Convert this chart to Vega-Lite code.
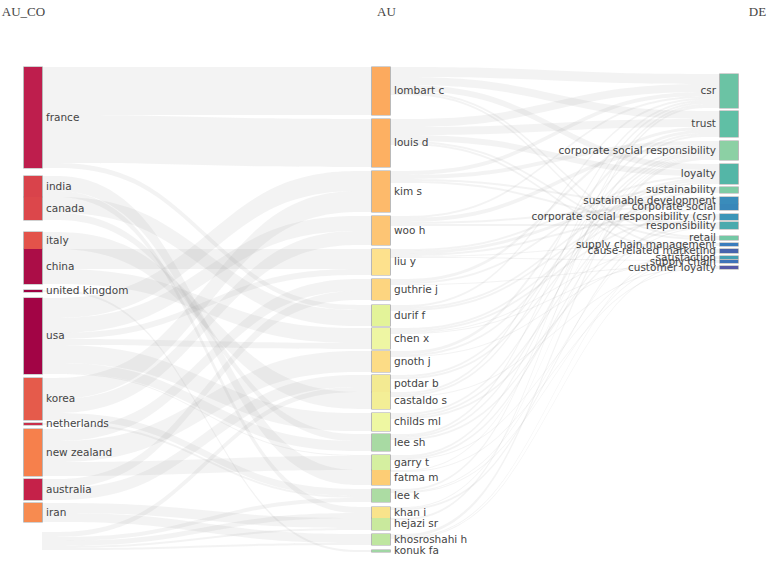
{
"$schema": "https://vega.github.io/schema/vega-lite/v6.json",
"width": 696, "height": 500,
"autosize": {"type": "none"},
"padding": {"left": 33, "top": 67, "right": 43, "bottom": 5},
"background": "#ffffff",
"config": {"view": {"stroke": null}},
"datasets": {
"sides": [
{"group": "AU_CO", "col": "AU_CO", "pos": ["AU_CO", "h1"]},
{"group": "AU_in", "col": "AU", "pos": ["h2", "AU"]},
{"group": "AU_out", "col": "AU", "pos": ["AU", "h3"]},
{"group": "DE", "col": "DE", "pos": ["h4", "DE"]}
],
"ends": [
{"group": "AU_CO", "node": "france", "link": "france>lombart c", "value": 24, "order": 101},
{"group": "AU_CO", "node": "france", "link": "france>louis d", "value": 24, "order": 102},
{"group": "AU_CO", "node": "france", "link": "france>durif f", "value": 2.5, "order": 107},
{"group": "AU_CO", "value": 4, "order": 199},
{"group": "AU_CO", "node": "india", "link": "india>fatma m", "value": 7.5, "order": 215},
{"group": "AU_CO", "node": "india", "link": "india>khan i", "value": 3, "order": 217},
{"group": "AU_CO", "node": "canada", "link": "canada>durif f", "value": 8, "order": 307},
{"group": "AU_CO", "node": "canada", "link": "canada>lee sh", "value": 3.5, "order": 313},
{"group": "AU_CO", "value": 6, "order": 399},
{"group": "AU_CO", "node": "italy", "link": "italy>castaldo s", "value": 8.5, "order": 411},
{"group": "AU_CO", "node": "china", "link": "china>liu y", "value": 10, "order": 505},
{"group": "AU_CO", "node": "china", "link": "china>chen x", "value": 7.5, "order": 508},
{"group": "AU_CO", "value": 3, "order": 599},
{"group": "AU_CO", "node": "united kingdom", "link": "united kingdom>konuk fa", "value": 1, "order": 620},
{"group": "AU_CO", "value": 3, "order": 699},
{"group": "AU_CO", "node": "usa", "link": "usa>kim s", "value": 10, "order": 703},
{"group": "AU_CO", "node": "usa", "link": "usa>woo h", "value": 7.5, "order": 704},
{"group": "AU_CO", "node": "usa", "link": "usa>liu y", "value": 3, "order": 705},
{"group": "AU_CO", "node": "usa", "link": "usa>chen x", "value": 3, "order": 708},
{"group": "AU_CO", "node": "usa", "link": "usa>childs ml", "value": 9, "order": 712},
{"group": "AU_CO", "node": "usa", "link": "usa>lee sh", "value": 5, "order": 713},
{"group": "AU_CO", "node": "usa", "link": "usa>garry t", "value": 0.5, "order": 714},
{"group": "AU_CO", "value": 2, "order": 799},
{"group": "AU_CO", "node": "korea", "link": "korea>kim s", "value": 10.5, "order": 803},
{"group": "AU_CO", "node": "korea", "link": "korea>woo h", "value": 7, "order": 804},
{"group": "AU_CO", "node": "korea", "link": "korea>lee k", "value": 3.5, "order": 816},
{"group": "AU_CO", "value": 1.5, "order": 899},
{"group": "AU_CO", "node": "netherlands", "link": "netherlands>lee k", "value": 1, "order": 916},
{"group": "AU_CO", "value": 2, "order": 999},
{"group": "AU_CO", "node": "new zealand", "link": "new zealand>guthrie j", "value": 6, "order": 1006},
{"group": "AU_CO", "node": "new zealand", "link": "new zealand>gnoth j", "value": 10.5, "order": 1009},
{"group": "AU_CO", "node": "new zealand", "link": "new zealand>garry t", "value": 7, "order": 1014},
{"group": "AU_CO", "value": 1.5, "order": 1099},
{"group": "AU_CO", "node": "australia", "link": "australia>guthrie j", "value": 4.5, "order": 1106},
{"group": "AU_CO", "node": "australia", "link": "australia>potdar b", "value": 6, "order": 1110},
{"group": "AU_CO", "value": 1.5, "order": 1199},
{"group": "AU_CO", "node": "iran", "link": "iran>hejazi sr", "value": 5, "order": 1218},
{"group": "AU_CO", "node": "iran", "link": "iran>khosroshahi h", "value": 4.5, "order": 1219},
{"group": "AU_CO", "value": 5, "order": 1299},
{"group": "AU_CO", "node": "NA", "link": "NA>potdar b", "value": 2.5, "order": 1310},
{"group": "AU_CO", "node": "NA", "link": "NA>lee k", "value": 2, "order": 1316},
{"group": "AU_CO", "node": "NA", "link": "NA>khan i", "value": 2.5, "order": 1317},
{"group": "AU_CO", "node": "NA", "link": "NA>hejazi sr", "value": 1, "order": 1318},
{"group": "AU_CO", "node": "NA", "link": "NA>khosroshahi h", "value": 1, "order": 1319},

{"group": "AU_in", "node": "lombart c", "link": "france>lombart c", "value": 24, "order": 101},
{"group": "AU_in", "value": 2, "order": 199},
{"group": "AU_in", "node": "louis d", "link": "france>louis d", "value": 24, "order": 201},
{"group": "AU_in", "value": 2, "order": 299},
{"group": "AU_in", "node": "kim s", "link": "usa>kim s", "value": 10, "order": 307},
{"group": "AU_in", "node": "kim s", "link": "korea>kim s", "value": 10.5, "order": 308},
{"group": "AU_in", "value": 2, "order": 399},
{"group": "AU_in", "node": "woo h", "link": "usa>woo h", "value": 7.5, "order": 407},
{"group": "AU_in", "node": "woo h", "link": "korea>woo h", "value": 7, "order": 408},
{"group": "AU_in", "value": 2, "order": 499},
{"group": "AU_in", "node": "liu y", "link": "china>liu y", "value": 10, "order": 505},
{"group": "AU_in", "node": "liu y", "link": "usa>liu y", "value": 3, "order": 507},
{"group": "AU_in", "value": 2, "order": 599},
{"group": "AU_in", "node": "guthrie j", "link": "new zealand>guthrie j", "value": 6, "order": 610},
{"group": "AU_in", "node": "guthrie j", "link": "australia>guthrie j", "value": 4.5, "order": 611},
{"group": "AU_in", "value": 2.5, "order": 699},
{"group": "AU_in", "node": "durif f", "link": "france>durif f", "value": 2.5, "order": 701},
{"group": "AU_in", "node": "durif f", "link": "canada>durif f", "value": 8, "order": 703},
{"group": "AU_in", "value": 1, "order": 799},
{"group": "AU_in", "node": "chen x", "link": "china>chen x", "value": 7.5, "order": 805},
{"group": "AU_in", "node": "chen x", "link": "usa>chen x", "value": 3, "order": 807},
{"group": "AU_in", "value": 1, "order": 899},
{"group": "AU_in", "node": "gnoth j", "link": "new zealand>gnoth j", "value": 10.5, "order": 910},
{"group": "AU_in", "value": 1.5, "order": 999},
{"group": "AU_in", "node": "potdar b", "link": "australia>potdar b", "value": 6, "order": 1011},
{"group": "AU_in", "node": "potdar b", "link": "NA>potdar b", "value": 2.5, "order": 1013},
{"group": "AU_in", "node": "castaldo s", "link": "italy>castaldo s", "value": 8.5, "order": 1104},
{"group": "AU_in", "value": 2, "order": 1199},
{"group": "AU_in", "node": "childs ml", "link": "usa>childs ml", "value": 9, "order": 1207},
{"group": "AU_in", "value": 1.5, "order": 1299},
{"group": "AU_in", "node": "lee sh", "link": "canada>lee sh", "value": 3.5, "order": 1303},
{"group": "AU_in", "node": "lee sh", "link": "usa>lee sh", "value": 5, "order": 1307},
{"group": "AU_in", "value": 2, "order": 1399},
{"group": "AU_in", "node": "garry t", "link": "usa>garry t", "value": 0.5, "order": 1407},
{"group": "AU_in", "node": "garry t", "link": "new zealand>garry t", "value": 7, "order": 1410},
{"group": "AU_in", "node": "fatma m", "link": "india>fatma m", "value": 7.5, "order": 1502},
{"group": "AU_in", "value": 2, "order": 1599},
{"group": "AU_in", "node": "lee k", "link": "korea>lee k", "value": 3.5, "order": 1608},
{"group": "AU_in", "node": "lee k", "link": "netherlands>lee k", "value": 1, "order": 1609},
{"group": "AU_in", "node": "lee k", "link": "NA>lee k", "value": 2, "order": 1613},
{"group": "AU_in", "value": 2.5, "order": 1699},
{"group": "AU_in", "node": "khan i", "link": "india>khan i", "value": 3, "order": 1702},
{"group": "AU_in", "node": "khan i", "link": "NA>khan i", "value": 2.5, "order": 1713},
{"group": "AU_in", "node": "hejazi sr", "link": "iran>hejazi sr", "value": 5, "order": 1812},
{"group": "AU_in", "node": "hejazi sr", "link": "NA>hejazi sr", "value": 1, "order": 1813},
{"group": "AU_in", "value": 2, "order": 1899},
{"group": "AU_in", "node": "khosroshahi h", "link": "iran>khosroshahi h", "value": 4.5, "order": 1912},
{"group": "AU_in", "node": "khosroshahi h", "link": "NA>khosroshahi h", "value": 1, "order": 1913},
{"group": "AU_in", "value": 2.5, "order": 1999},
{"group": "AU_in", "node": "konuk fa", "link": "united kingdom>konuk fa", "value": 1, "order": 2006},

{"group": "AU_out", "node": "lombart c", "link": "lombart c>csr", "value": 5, "order": 101},
{"group": "AU_out", "node": "lombart c", "link": "lombart c>trust", "value": 4, "order": 102},
{"group": "AU_out", "node": "lombart c", "link": "lombart c>loyalty", "value": 3, "order": 104},
{"group": "AU_out", "node": "lombart c", "link": "lombart c>retail", "value": 1, "order": 110},
{"group": "AU_out", "node": "lombart c", "link": "lombart c>cause-related marketing", "value": 1, "order": 112},
{"group": "AU_out", "value": 12, "order": 199},
{"group": "AU_out", "node": "louis d", "link": "louis d>csr", "value": 4, "order": 201},
{"group": "AU_out", "node": "louis d", "link": "louis d>trust", "value": 4, "order": 202},
{"group": "AU_out", "node": "louis d", "link": "louis d>loyalty", "value": 3, "order": 204},
{"group": "AU_out", "node": "louis d", "link": "louis d>retail", "value": 1, "order": 210},
{"group": "AU_out", "node": "louis d", "link": "louis d>cause-related marketing", "value": 1, "order": 212},
{"group": "AU_out", "value": 13, "order": 299},
{"group": "AU_out", "node": "kim s", "link": "kim s>csr", "value": 2, "order": 301},
{"group": "AU_out", "node": "kim s", "link": "kim s>corporate social responsibility", "value": 2, "order": 303},
{"group": "AU_out", "node": "kim s", "link": "kim s>corporate social", "value": 1, "order": 307},
{"group": "AU_out", "node": "kim s", "link": "kim s>responsibility", "value": 1, "order": 309},
{"group": "AU_out", "value": 16.5, "order": 399},
{"group": "AU_out", "node": "woo h", "link": "woo h>csr", "value": 1, "order": 401},
{"group": "AU_out", "node": "woo h", "link": "woo h>corporate social responsibility", "value": 2, "order": 403},
{"group": "AU_out", "node": "woo h", "link": "woo h>corporate social", "value": 1, "order": 407},
{"group": "AU_out", "node": "woo h", "link": "woo h>responsibility", "value": 1, "order": 409},
{"group": "AU_out", "value": 11.5, "order": 499},
{"group": "AU_out", "node": "liu y", "link": "liu y>sustainability", "value": 1, "order": 505},
{"group": "AU_out", "node": "liu y", "link": "liu y>sustainable development", "value": 1.5, "order": 506},
{"group": "AU_out", "node": "liu y", "link": "liu y>corporate social responsibility (csr)", "value": 1, "order": 508},
{"group": "AU_out", "node": "liu y", "link": "liu y>supply chain management", "value": 0.5, "order": 511},
{"group": "AU_out", "node": "liu y", "link": "liu y>supply chain", "value": 0.5, "order": 514},
{"group": "AU_out", "value": 10.5, "order": 599},
{"group": "AU_out", "node": "guthrie j", "link": "guthrie j>trust", "value": 1.5, "order": 602},
{"group": "AU_out", "node": "guthrie j", "link": "guthrie j>loyalty", "value": 1, "order": 604},
{"group": "AU_out", "node": "guthrie j", "link": "guthrie j>customer loyalty", "value": 0.5, "order": 615},
{"group": "AU_out", "value": 10, "order": 699},
{"group": "AU_out", "node": "durif f", "link": "durif f>csr", "value": 1, "order": 701},
{"group": "AU_out", "node": "durif f", "link": "durif f>sustainability", "value": 1, "order": 705},
{"group": "AU_out", "node": "durif f", "link": "durif f>sustainable development", "value": 1, "order": 706},
{"group": "AU_out", "value": 8.5, "order": 799},
{"group": "AU_out", "node": "chen x", "link": "chen x>sustainable development", "value": 1, "order": 806},
{"group": "AU_out", "node": "chen x", "link": "chen x>corporate social responsibility (csr)", "value": 1, "order": 808},
{"group": "AU_out", "node": "chen x", "link": "chen x>supply chain management", "value": 0.5, "order": 811},
{"group": "AU_out", "node": "chen x", "link": "chen x>supply chain", "value": 0.5, "order": 814},
{"group": "AU_out", "value": 8.5, "order": 899},
{"group": "AU_out", "node": "gnoth j", "link": "gnoth j>trust", "value": 1.5, "order": 902},
{"group": "AU_out", "node": "gnoth j", "link": "gnoth j>loyalty", "value": 1, "order": 904},
{"group": "AU_out", "node": "gnoth j", "link": "gnoth j>satisfaction", "value": 0.5, "order": 913},
{"group": "AU_out", "value": 9, "order": 999},
{"group": "AU_out", "node": "potdar b", "link": "potdar b>corporate social responsibility", "value": 1, "order": 1003},
{"group": "AU_out", "node": "potdar b", "link": "potdar b>loyalty", "value": 1, "order": 1004},
{"group": "AU_out", "value": 6.5, "order": 1099},
{"group": "AU_out", "node": "castaldo s", "link": "castaldo s>csr", "value": 1, "order": 1101},
{"group": "AU_out", "node": "castaldo s", "link": "castaldo s>trust", "value": 1, "order": 1102},
{"group": "AU_out", "node": "castaldo s", "link": "castaldo s>customer loyalty", "value": 0.5, "order": 1115},
{"group": "AU_out", "value": 8, "order": 1199},
{"group": "AU_out", "node": "childs ml", "link": "childs ml>corporate social responsibility", "value": 1, "order": 1203},
{"group": "AU_out", "node": "childs ml", "link": "childs ml>sustainability", "value": 1, "order": 1205},
{"group": "AU_out", "node": "childs ml", "link": "childs ml>responsibility", "value": 1, "order": 1209},
{"group": "AU_out", "value": 7.5, "order": 1299},
{"group": "AU_out", "node": "lee sh", "link": "lee sh>csr", "value": 1, "order": 1301},
{"group": "AU_out", "node": "lee sh", "link": "lee sh>corporate social responsibility", "value": 1, "order": 1303},
{"group": "AU_out", "node": "lee sh", "link": "lee sh>corporate social", "value": 1, "order": 1307},
{"group": "AU_out", "value": 7.5, "order": 1399},
{"group": "AU_out", "node": "garry t", "link": "garry t>trust", "value": 1, "order": 1402},
{"group": "AU_out", "node": "garry t", "link": "garry t>loyalty", "value": 1, "order": 1404},
{"group": "AU_out", "node": "garry t", "link": "garry t>satisfaction", "value": 0.5, "order": 1413},
{"group": "AU_out", "value": 5, "order": 1499},
{"group": "AU_out", "node": "fatma m", "link": "fatma m>corporate social responsibility", "value": 0.5, "order": 1503},
{"group": "AU_out", "node": "fatma m", "link": "fatma m>customer loyalty", "value": 0.5, "order": 1515},
{"group": "AU_out", "value": 8.5, "order": 1599},
{"group": "AU_out", "node": "lee k", "link": "lee k>csr", "value": 1, "order": 1601},
{"group": "AU_out", "node": "lee k", "link": "lee k>responsibility", "value": 0.5, "order": 1609},
{"group": "AU_out", "node": "lee k", "link": "lee k>satisfaction", "value": 0.5, "order": 1613},
{"group": "AU_out", "value": 7, "order": 1699},
{"group": "AU_out", "node": "khan i", "link": "khan i>corporate social responsibility", "value": 0.5, "order": 1703},
{"group": "AU_out", "node": "khan i", "link": "khan i>corporate social responsibility (csr)", "value": 1, "order": 1708},
{"group": "AU_out", "value": 4, "order": 1799},
{"group": "AU_out", "node": "hejazi sr", "link": "hejazi sr>csr", "value": 1, "order": 1801},
{"group": "AU_out", "value": 7, "order": 1899},
{"group": "AU_out", "node": "khosroshahi h", "link": "khosroshahi h>corporate social responsibility", "value": 1.5, "order": 1903},
{"group": "AU_out", "node": "khosroshahi h", "link": "khosroshahi h>supply chain management", "value": 0.5, "order": 1911},
{"group": "AU_out", "node": "khosroshahi h", "link": "khosroshahi h>supply chain", "value": 0.5, "order": 1914},

{"group": "DE", "value": 3.5, "order": 0},
{"group": "DE", "node": "csr", "link": "lombart c>csr", "value": 5, "order": 101},
{"group": "DE", "node": "csr", "link": "louis d>csr", "value": 4, "order": 102},
{"group": "DE", "node": "csr", "link": "kim s>csr", "value": 2, "order": 103},
{"group": "DE", "node": "csr", "link": "woo h>csr", "value": 1, "order": 104},
{"group": "DE", "node": "csr", "link": "durif f>csr", "value": 1, "order": 107},
{"group": "DE", "node": "csr", "link": "castaldo s>csr", "value": 1, "order": 111},
{"group": "DE", "node": "csr", "link": "lee sh>csr", "value": 1, "order": 113},
{"group": "DE", "node": "csr", "link": "lee k>csr", "value": 1, "order": 116},
{"group": "DE", "node": "csr", "link": "hejazi sr>csr", "value": 1, "order": 118},
{"group": "DE", "value": 1.5, "order": 199},
{"group": "DE", "node": "trust", "link": "lombart c>trust", "value": 4, "order": 201},
{"group": "DE", "node": "trust", "link": "louis d>trust", "value": 4, "order": 202},
{"group": "DE", "node": "trust", "link": "guthrie j>trust", "value": 1.5, "order": 206},
{"group": "DE", "node": "trust", "link": "gnoth j>trust", "value": 1.5, "order": 209},
{"group": "DE", "node": "trust", "link": "castaldo s>trust", "value": 1, "order": 211},
{"group": "DE", "node": "trust", "link": "garry t>trust", "value": 1, "order": 214},
{"group": "DE", "value": 2, "order": 299},
{"group": "DE", "node": "corporate social responsibility", "link": "kim s>corporate social responsibility", "value": 2, "order": 303},
{"group": "DE", "node": "corporate social responsibility", "link": "woo h>corporate social responsibility", "value": 2, "order": 304},
{"group": "DE", "node": "corporate social responsibility", "link": "potdar b>corporate social responsibility", "value": 1, "order": 310},
{"group": "DE", "node": "corporate social responsibility", "link": "childs ml>corporate social responsibility", "value": 1, "order": 312},
{"group": "DE", "node": "corporate social responsibility", "link": "lee sh>corporate social responsibility", "value": 1, "order": 313},
{"group": "DE", "node": "corporate social responsibility", "link": "fatma m>corporate social responsibility", "value": 0.5, "order": 315},
{"group": "DE", "node": "corporate social responsibility", "link": "khan i>corporate social responsibility", "value": 0.5, "order": 317},
{"group": "DE", "node": "corporate social responsibility", "link": "khosroshahi h>corporate social responsibility", "value": 1.5, "order": 319},
{"group": "DE", "value": 2, "order": 399},
{"group": "DE", "node": "loyalty", "link": "lombart c>loyalty", "value": 3, "order": 401},
{"group": "DE", "node": "loyalty", "link": "louis d>loyalty", "value": 3, "order": 402},
{"group": "DE", "node": "loyalty", "link": "guthrie j>loyalty", "value": 1, "order": 406},
{"group": "DE", "node": "loyalty", "link": "gnoth j>loyalty", "value": 1, "order": 409},
{"group": "DE", "node": "loyalty", "link": "potdar b>loyalty", "value": 1, "order": 410},
{"group": "DE", "node": "loyalty", "link": "garry t>loyalty", "value": 1, "order": 414},
{"group": "DE", "value": 1.5, "order": 499},
{"group": "DE", "node": "sustainability", "link": "liu y>sustainability", "value": 1, "order": 505},
{"group": "DE", "node": "sustainability", "link": "durif f>sustainability", "value": 1, "order": 507},
{"group": "DE", "node": "sustainability", "link": "childs ml>sustainability", "value": 1, "order": 512},
{"group": "DE", "value": 2, "order": 599},
{"group": "DE", "node": "sustainable development", "link": "liu y>sustainable development", "value": 1.5, "order": 605},
{"group": "DE", "node": "sustainable development", "link": "durif f>sustainable development", "value": 1, "order": 607},
{"group": "DE", "node": "sustainable development", "link": "chen x>sustainable development", "value": 1, "order": 608},
{"group": "DE", "node": "corporate social", "link": "kim s>corporate social", "value": 1, "order": 703},
{"group": "DE", "node": "corporate social", "link": "woo h>corporate social", "value": 1, "order": 704},
{"group": "DE", "node": "corporate social", "link": "lee sh>corporate social", "value": 1, "order": 713},
{"group": "DE", "value": 2, "order": 799},
{"group": "DE", "node": "corporate social responsibility (csr)", "link": "liu y>corporate social responsibility (csr)", "value": 1, "order": 805},
{"group": "DE", "node": "corporate social responsibility (csr)", "link": "chen x>corporate social responsibility (csr)", "value": 1, "order": 808},
{"group": "DE", "node": "corporate social responsibility (csr)", "link": "khan i>corporate social responsibility (csr)", "value": 1, "order": 817},
{"group": "DE", "value": 1, "order": 899},
{"group": "DE", "node": "responsibility", "link": "kim s>responsibility", "value": 1, "order": 903},
{"group": "DE", "node": "responsibility", "link": "woo h>responsibility", "value": 1, "order": 904},
{"group": "DE", "node": "responsibility", "link": "childs ml>responsibility", "value": 1, "order": 912},
{"group": "DE", "node": "responsibility", "link": "lee k>responsibility", "value": 0.5, "order": 916},
{"group": "DE", "value": 3.5, "order": 999},
{"group": "DE", "node": "retail", "link": "lombart c>retail", "value": 1, "order": 1001},
{"group": "DE", "node": "retail", "link": "louis d>retail", "value": 1, "order": 1002},
{"group": "DE", "value": 1.5, "order": 1099},
{"group": "DE", "node": "supply chain management", "link": "liu y>supply chain management", "value": 0.5, "order": 1105},
{"group": "DE", "node": "supply chain management", "link": "chen x>supply chain management", "value": 0.5, "order": 1108},
{"group": "DE", "node": "supply chain management", "link": "khosroshahi h>supply chain management", "value": 0.5, "order": 1119},
{"group": "DE", "value": 1.5, "order": 1199},
{"group": "DE", "node": "cause-related marketing", "link": "lombart c>cause-related marketing", "value": 1, "order": 1201},
{"group": "DE", "node": "cause-related marketing", "link": "louis d>cause-related marketing", "value": 1, "order": 1202},
{"group": "DE", "value": 1.5, "order": 1299},
{"group": "DE", "node": "satisfaction", "link": "gnoth j>satisfaction", "value": 0.5, "order": 1309},
{"group": "DE", "node": "satisfaction", "link": "garry t>satisfaction", "value": 0.5, "order": 1314},
{"group": "DE", "node": "satisfaction", "link": "lee k>satisfaction", "value": 0.5, "order": 1316},
{"group": "DE", "value": 0.5, "order": 1399},
{"group": "DE", "node": "supply chain", "link": "liu y>supply chain", "value": 0.5, "order": 1405},
{"group": "DE", "node": "supply chain", "link": "chen x>supply chain", "value": 0.5, "order": 1408},
{"group": "DE", "node": "supply chain", "link": "khosroshahi h>supply chain", "value": 0.5, "order": 1419},
{"group": "DE", "value": 1.5, "order": 1499},
{"group": "DE", "node": "customer loyalty", "link": "guthrie j>customer loyalty", "value": 0.5, "order": 1506},
{"group": "DE", "node": "customer loyalty", "link": "castaldo s>customer loyalty", "value": 0.5, "order": 1511},
{"group": "DE", "node": "customer loyalty", "link": "fatma m>customer loyalty", "value": 0.5, "order": 1515}
]
},
"data": {"name": "ends"},
"transform": [
{"stack": "value", "groupby": ["group"], "sort": [{"field": "order", "order": "ascending"}], "as": ["start", "end"]},
{"filter": "isValid(datum.link)"},
{"lookup": "group", "from": {"data": {"name": "sides"}, "key": "group", "fields": ["col", "pos"]}}
],
"layer": [
{
"transform": [{"flatten": ["pos"]}],
"mark": {"type": "area", "interpolate": "basis", "fill": "#8c8c8c", "fillOpacity": 0.1},
"encoding": {
"x": {"field": "pos", "type": "nominal", "sort": ["AU_CO", "h1", "h2", "AU", "h3", "h4", "DE"],
"scale": {"type": "point", "padding": 0, "domain": ["AU_CO", "h1", "h2", "AU", "h3", "h4", "DE"]},
"axis": {"orient": "top", "values": ["AU_CO", "AU", "DE"], "ticks": false, "tickSize": 0, "domain": false, "grid": false, "title": null,
"labelPadding": 49, "labelFont": "Liberation Serif", "labelFontSize": 13, "labelColor": "#444444", "labelAngle": 0,
"labelOffset": {"condition": [{"test": "datum.value === 'AU_CO'", "value": -10}, {"test": "datum.value === 'DE'", "value": 28}], "value": 5}}},
"y": {"field": "start", "type": "quantitative", "stack": null, "scale": {"domain": [0, 250], "reverse": true, "nice": false, "zero": true}, "axis": null},
"y2": {"field": "end"},
"detail": {"field": "link", "type": "nominal"}
}
},
{
"transform": [
{"aggregate": [{"op": "min", "field": "start", "as": "lo"}, {"op": "max", "field": "end", "as": "hi"}], "groupby": ["node", "col"]},
{"filter": "datum.node !== 'NA'"}
],
"mark": {"type": "rule", "strokeWidth": 19.5, "color": "#a3a3a3", "yOffset": -0.5, "y2Offset": 0.5, "strokeCap": "butt"},
"encoding": {
"x": {"field": "col", "type": "nominal", "sort": ["AU_CO", "h1", "h2", "AU", "h3", "h4", "DE"], "scale": {"type": "point", "padding": 0, "domain": ["AU_CO", "h1", "h2", "AU", "h3", "h4", "DE"]}},
"y": {"field": "lo", "type": "quantitative", "axis": null},
"y2": {"field": "hi"}
}
},
{
"transform": [
{"aggregate": [{"op": "min", "field": "start", "as": "lo"}, {"op": "max", "field": "end", "as": "hi"}], "groupby": ["node", "col"]}
],
"mark": {"type": "rule", "strokeWidth": 18, "strokeCap": "butt"},
"encoding": {
"x": {"field": "col", "type": "nominal", "sort": ["AU_CO", "h1", "h2", "AU", "h3", "h4", "DE"], "scale": {"type": "point", "padding": 0, "domain": ["AU_CO", "h1", "h2", "AU", "h3", "h4", "DE"]}},
"y": {"field": "lo", "type": "quantitative", "axis": null},
"y2": {"field": "hi"},
"color": {"field": "node", "type": "nominal", "legend": null, "scale": {
"domain": ["france", "india", "canada", "italy", "china", "united kingdom", "usa", "korea", "netherlands", "new zealand", "australia", "iran", "NA",
"lombart c", "louis d", "kim s", "woo h", "liu y", "guthrie j", "durif f", "chen x", "gnoth j", "potdar b", "castaldo s", "childs ml", "lee sh", "garry t", "fatma m", "lee k", "khan i", "hejazi sr", "khosroshahi h", "konuk fa",
"csr", "trust", "corporate social responsibility", "loyalty", "sustainability", "sustainable development", "corporate social", "corporate social responsibility (csr)", "responsibility", "retail", "supply chain management", "cause-related marketing", "satisfaction", "supply chain", "customer loyalty"],
"range": ["#be1e4d", "#d9434b", "#dc474b", "#e3534a", "#ab0d47", "#9e0142", "#a20445", "#e55b4b", "#c9304c", "#f6804c", "#c52149", "#f78b50", "#ffffff",
"#fcaa5e", "#fdb062", "#fdba6b", "#fdc574", "#fde18d", "#fdd580", "#e3f399", "#eef6a3", "#fcdc86", "#f3ea92", "#f3ee96", "#eef7a2", "#a8daa3", "#d5efa0", "#fdcd75", "#acdca3", "#f9e38b", "#c9e99d", "#bfe6a0", "#a0d6a4",
"#6bc3a4", "#60bfa5", "#8cd0a4", "#54b6a7", "#7fcca5", "#3a8cbb", "#3987b9", "#3c96b8", "#4aaaad", "#74c8a5", "#3b7dbd", "#4864ad", "#45a0b3", "#3e73b8", "#5559a7"]}}
}
},
{
"transform": [
{"aggregate": [{"op": "min", "field": "start", "as": "lo"}, {"op": "max", "field": "end", "as": "hi"}], "groupby": ["node", "col"]},
{"filter": "datum.node !== 'NA' && datum.col !== 'DE'"},
{"fold": ["lo", "hi"], "as": ["edge", "edgeValue"]},
{"aggregate": [{"op": "mean", "field": "edgeValue", "as": "mid"}], "groupby": ["node", "col"]}
],
"mark": {"type": "text", "align": "left", "baseline": "middle", "dx": 13, "font": "DejaVu Sans", "fontSize": 10.5, "color": "#444444"},
"encoding": {
"x": {"field": "col", "type": "nominal", "sort": ["AU_CO", "h1", "h2", "AU", "h3", "h4", "DE"], "scale": {"type": "point", "padding": 0, "domain": ["AU_CO", "h1", "h2", "AU", "h3", "h4", "DE"]}},
"y": {"field": "mid", "type": "quantitative", "axis": null},
"text": {"field": "node", "type": "nominal"}
}
},
{
"transform": [
{"aggregate": [{"op": "min", "field": "start", "as": "lo"}, {"op": "max", "field": "end", "as": "hi"}], "groupby": ["node", "col"]},
{"filter": "datum.col === 'DE'"},
{"fold": ["lo", "hi"], "as": ["edge", "edgeValue"]},
{"aggregate": [{"op": "mean", "field": "edgeValue", "as": "mid"}], "groupby": ["node", "col"]}
],
"mark": {"type": "text", "align": "right", "baseline": "middle", "dx": -13, "font": "DejaVu Sans", "fontSize": 10.5, "color": "#444444"},
"encoding": {
"x": {"field": "col", "type": "nominal", "sort": ["AU_CO", "h1", "h2", "AU", "h3", "h4", "DE"], "scale": {"type": "point", "padding": 0, "domain": ["AU_CO", "h1", "h2", "AU", "h3", "h4", "DE"]}},
"y": {"field": "mid", "type": "quantitative", "axis": null},
"text": {"field": "node", "type": "nominal"}
}
}
]
}
